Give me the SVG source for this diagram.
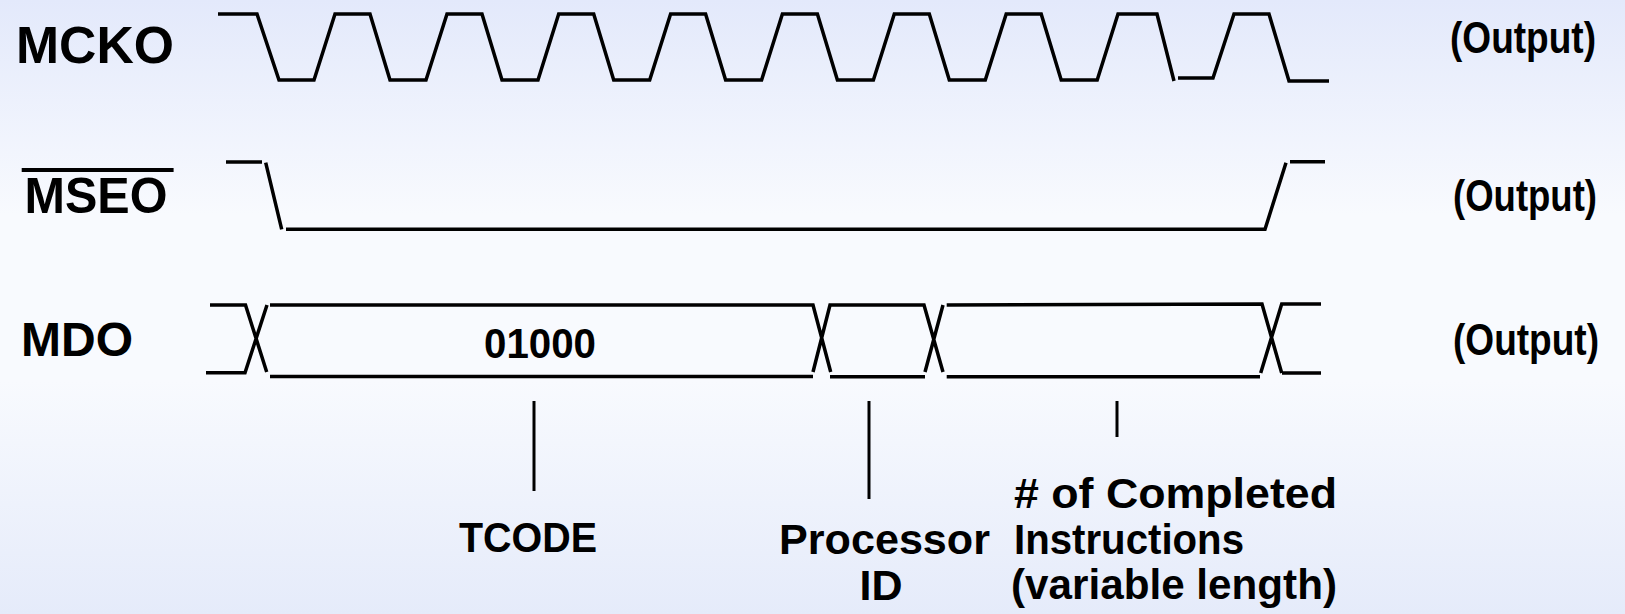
<svg xmlns="http://www.w3.org/2000/svg" width="1625" height="614" viewBox="0 0 1625 614">
<defs>
<linearGradient id="bg" x1="0" y1="0" x2="0" y2="1">
<stop offset="0" stop-color="#E3E9FB"/>
<stop offset="0.35" stop-color="#F8FAFE"/>
<stop offset="0.62" stop-color="#F8FAFE"/>
<stop offset="1" stop-color="#E5EBFA"/>
</linearGradient>
<style>
.sig{fill:none;stroke:#000;stroke-width:3.5;stroke-linecap:butt;stroke-linejoin:miter}
.ptr{fill:none;stroke:#000;stroke-width:3}
text{font-family:"Liberation Sans",Arial,Helvetica,sans-serif;font-weight:bold;fill:#000}
.lbl{font-size:50px}
.out{font-size:44px}
.sub{font-size:43px}
</style>
</defs>
<rect x="0" y="0" width="1625" height="614" fill="url(#bg)"/>

<g id="mcko">
<text class="lbl" x="16" y="63" style="font-size:51px" textLength="158" lengthAdjust="spacingAndGlyphs">MCKO</text>
<path class="sig" d="M218,14 L257,14 L279,80 L314,80 L335,14 L370,14 L390,80 L426,80 L447,14 L482,14 L502,80 L538,80 L558.7,14 L593.7,14 L613.7,80 L649.7,80 L670.6,14 L705.6,14 L725.6,80 L761.6,80 L782.4,14 L817.4,14 L837.4,80 L873.4,80 L894.3,14 L929.3,14 L949.3,80 L985.3,80 L1006.2,14 L1041.2,14 L1061.2,80 L1097.2,80 L1118,14 L1157,14 L1174,81 M1178,78 L1213,78 L1234,14 L1269,14 L1289,81 L1329,81"/>
<text class="out" x="1450" y="53" textLength="146" lengthAdjust="spacingAndGlyphs">(Output)</text>
</g>

<g id="mseo">
<text class="lbl" x="24.5" y="213" textLength="143" lengthAdjust="spacingAndGlyphs">MSEO</text>
<line x1="21.7" y1="170" x2="173.6" y2="170" stroke="#000" stroke-width="4"/>
<path class="sig" d="M226,162 L262,162 M265.7,162.7 L281.7,229.3 M286,229.3 L1265,229.3 L1286,162.7 M1290,161.7 L1325,161.7"/>
<text class="out" x="1453" y="211" textLength="144" lengthAdjust="spacingAndGlyphs">(Output)</text>
</g>

<g id="mdo">
<text class="lbl" x="21" y="356" style="font-size:48px">MDO</text>
<path class="sig" d="M210,305 L245.5,305 L266.7,372 M206,372.7 L245,372.7 L267,305 M270,305 L813,305 L830.7,372 M813,372 L830,305 L924,305 L943,372 M925,372 L943,305 M946.7,305 L1262,304 L1281.7,373 M1260.7,373 L1281.7,304 L1321,304 M1282,373 L1321,373 M270,376.5 L813,376.5 M830,376.7 L925,376.7 M946.7,376.7 L1260,376.7"/>
<text class="sub" x="540" y="358" text-anchor="middle" style="font-size:42px" textLength="112" lengthAdjust="spacingAndGlyphs">01000</text>
<text class="out" x="1453" y="355" textLength="146" lengthAdjust="spacingAndGlyphs">(Output)</text>
</g>

<g id="connectors">
<line class="ptr" x1="534" y1="401" x2="534" y2="491"/>
<line class="ptr" x1="869" y1="401" x2="869" y2="499"/>
<line class="ptr" x1="1117" y1="401" x2="1117" y2="437"/>
</g>

<g id="tcode">
<text class="sub" x="528" y="552" text-anchor="middle" textLength="138" lengthAdjust="spacingAndGlyphs">TCODE</text>
</g>

<g id="processor-id">
<text class="sub" x="779" y="554" textLength="211" lengthAdjust="spacingAndGlyphs">Processor</text>
<text class="sub" x="881" y="600" text-anchor="middle">ID</text>
</g>

<g id="completed-instructions">
<text class="sub" x="1014" y="508" textLength="323" lengthAdjust="spacingAndGlyphs"># of Completed</text>
<text class="sub" x="1014" y="554" textLength="230" lengthAdjust="spacingAndGlyphs">Instructions</text>
<text class="sub" x="1011" y="599" textLength="326" lengthAdjust="spacingAndGlyphs">(variable length)</text>
</g>
</svg>
